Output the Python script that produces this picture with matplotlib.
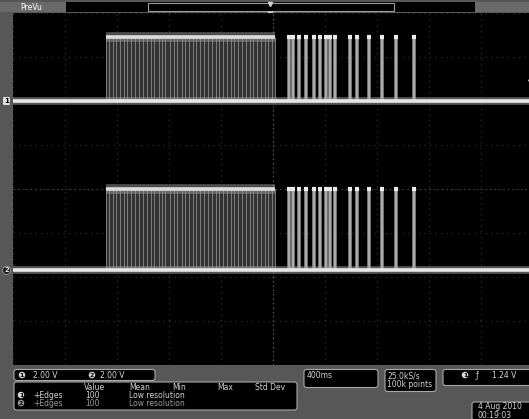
import matplotlib.pyplot as plt
import matplotlib.transforms as mtransforms
from matplotlib.patches import FancyBboxPatch, Rectangle

W, H = 529, 419

# scope settings
volts_per_div = 2.0
ms_per_div = 400
ch_pos = [2.0, -1.85]        # channel offsets, divisions
ch_high = [2.9, 3.7]         # logic high level, volts

# dense burst of edges (ms, relative to trigger)
burst_span = [-1285, 18]
burst_edges = [-1285, -1262, -1231, -1204, -1180, -1143, -1120, -1092, -1058, -1031,
               -1001, -968, -942, -915, -880, -852, -827, -794, -765, -738,
               -702, -676, -648, -615, -590, -561, -528, -500, -473, -440,
               -412, -385, -352, -325, -298, -266, -238, -210, -176, -150,
               -121, -90, -63, -35, -8, 12]

# isolated pulses after trigger (ms)
pulse_starts = [106, 136, 183, 236, 298, 344, 390, 421, 459, 575, 629, 721, 821, 929, 1067]
pulse_width = 32

ch_scale = ["2.00 V", "2.00 V"]
meas_header = ["Value", "Mean", "Min", "Max", "Std Dev"]
meas_rows = [["+Edges", "100", "Low resolution"], ["+Edges", "100", "Low resolution"]]
timebase = "400ms"
sample = "25.0kS/s\n100k points"
trig_level = "1.24 V"
stamp = "4 Aug 2010\n00:19:03"

fig = plt.figure(figsize=(W / 100, H / 100), dpi=100, facecolor="#575757")

# chrome (bezel) in pixel units
bz = fig.add_axes([0, 0, 1, 1])
bz.set_xlim(0, W)
bz.set_ylim(H, 0)
bz.axis("off")

# screen
ax = fig.add_axes([13 / W, (H - 365) / H, 520 / W, 352 / H], zorder=2)
ax.set_facecolor("black")
ax.set_xlim(-5 * ms_per_div, 5 * ms_per_div)
ax.set_ylim(-4, 4)
ax.set_xticks([])
ax.set_yticks([])
for s in ax.spines.values():
    s.set_visible(False)

# graticule
for k in range(-5, 6):
    ax.axvline(k * ms_per_div, color="#363636", lw=0.8, ls=(0, (1, 4)), zorder=0)
for k in range(-4, 5):
    ax.axhline(k, color="#363636", lw=0.8, ls=(0, (1, 4)), zorder=0)
ax.axvline(0, color="#5a5a5a", lw=0.9, ls=(0, (1, 2.5)), zorder=0)
ax.axhline(0, color="#444444", lw=0.9, ls=(0, (1, 2.5)), zorder=0)

x0, x1 = ax.get_xlim()
for pos, hv in zip(ch_pos, ch_high):
    top = pos + hv / volts_per_div
    # dense burst
    ax.fill_between(burst_span, pos, top, color="#333333", lw=0, zorder=1)
    ax.vlines(burst_edges, pos, top, color="#8a8a8a", lw=0.6, zorder=2)
    ax.plot(burst_span, [top, top], color="#9a9a9a", lw=7, alpha=0.5, zorder=3,
            solid_capstyle="butt")
    ax.plot(burst_span, [top, top], color="#dcdcdc", lw=2.6, zorder=4,
            solid_capstyle="butt")
    # pulse train: blurred bars
    for s in pulse_starts:
        ax.fill_between([s, s + pulse_width], pos, top, color="#8c8c8c", alpha=0.8,
                        lw=0, zorder=3)
        ax.fill_between([s + 8, s + pulse_width - 8], pos, top, color="#c4c4c4",
                        alpha=0.7, lw=0, zorder=3)
        ax.plot([s, s + pulse_width], [top, top], color="#ececec", lw=3, zorder=4,
                solid_capstyle="butt")
    # baseline
    ax.plot([x0, x1], [pos, pos], color="#a0a0a0", lw=5.5, alpha=0.55, zorder=5)
    ax.plot([x0, x1], [pos, pos], color="#e8e8e8", lw=2.6, zorder=6)

# trigger level marker on right edge
ax.plot([x1 - 20], [ch_pos[0] + 1.24 / volts_per_div - 0.15], marker="<",
        color="#c0c0c0", ms=3, zorder=6, clip_on=False)

# channel markers on left bezel
tr = mtransforms.blended_transform_factory(fig.transFigure, ax.transData)
fig.text(6.5 / W, ch_pos[0], "1", transform=tr, ha="center", va="center", fontsize=5,
         fontweight="bold", color="black",
         bbox=dict(boxstyle="round,pad=0.15", fc="#e0e0e0", ec="none"))
fig.text(6.5 / W, ch_pos[1], "2", transform=tr, ha="center", va="center", fontsize=5,
         fontweight="bold", color="#e0e0e0",
         bbox=dict(boxstyle="circle,pad=0.15", fc="#202020", ec="#b0b0b0", lw=0.5))

# top bar
bz.add_patch(Rectangle((0, 2), 66, 10, fc="#6a6a6a", ec="none"))
bz.add_patch(Rectangle((475, 2), 54, 10, fc="#6a6a6a", ec="none"))
bz.add_patch(Rectangle((66, 2), 409, 10, fc="black", ec="none"))
bz.add_patch(Rectangle((148, 3), 246, 8, fc="none", ec="#9a9a9a", lw=0.8))
bz.text(20, 7.5, "PreVu", color="white", fontsize=5.5, va="center", ha="left")
bz.plot([270], [4], marker="v", color="#d0d0d0", ms=3)
bz.plot([270], [14], marker="v", color="#d0d0d0", ms=3.5, zorder=5)

txt = dict(color="#d4d4d4", fontsize=5.5, va="center")


def box(x, y, w, h):
    bz.add_patch(FancyBboxPatch((x, y), w, h, boxstyle="round,pad=0,rounding_size=2.5",
                                fc="black", ec="#a8a8a8", lw=0.8))


def badge(x, y, n, fc="#d8d8d8"):
    bz.text(x, y, n, color="black", fontsize=4.5, fontweight="bold", ha="center",
            va="center", bbox=dict(boxstyle="circle,pad=0.12", fc=fc, ec="none"))


# channel scale box
box(14, 369.5, 141, 11)
badge(22, 375, "1")
bz.text(33, 375, ch_scale[0], **txt)
badge(92, 375, "2")
bz.text(100, 375, ch_scale[1], **txt)

# measurement box
box(14, 382, 283, 28)
for lbl, x in zip(meas_header, [84, 129, 172, 217, 255]):
    bz.text(x, 387, lbl, **txt)
for i, row in enumerate(meas_rows):
    y = 395 + i * 8
    c = "#d4d4d4" if i == 0 else "#9a9a9a"
    badge(21, y, str(i + 1), "#d8d8d8" if i == 0 else "#9a9a9a")
    bz.text(33, y, row[0], color=c, fontsize=5.5, va="center")
    bz.text(85, y, row[1], color=c, fontsize=5.5, va="center")
    bz.text(129, y, row[2], color=c, fontsize=5.5, va="center")

# timebase
box(304, 369.5, 74, 18)
bz.text(307, 375, timebase, **txt)

# sample rate
box(385, 369.5, 51, 22)
bz.text(387, 380, sample, color="#d4d4d4", fontsize=5.5, va="center", linespacing=1.0)

# trigger box
box(443, 369.5, 90, 16)
badge(465, 375, "1")
bz.text(475, 375, "\u0192", **txt)
bz.text(492, 375, trig_level, **txt)

# date stamp
box(472, 402, 60, 20)
bz.text(478, 411, stamp, color="#d4d4d4", fontsize=5.5, va="center", linespacing=1.0)

fig.savefig("out.png", dpi=100, facecolor=fig.get_facecolor())
